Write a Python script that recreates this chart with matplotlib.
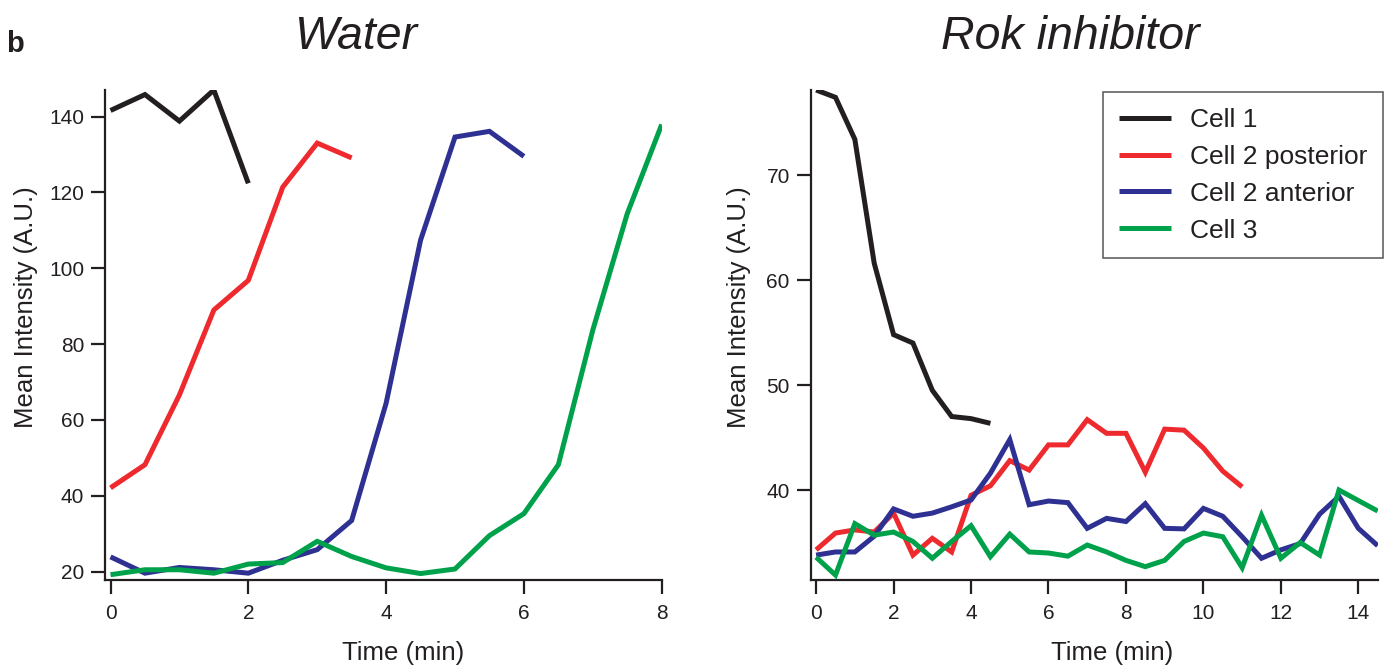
import matplotlib
matplotlib.use("Agg")
import matplotlib.pyplot as plt
import numpy as np

plt.rcParams['font.family'] = ['Liberation Sans', 'DejaVu Sans']

# ---------------- data ----------------
series_names = ["Cell 1", "Cell 2 posterior", "Cell 2 anterior", "Cell 3"]
series_colors = ["#231f20", "#ee2a2e", "#2e3192", "#00a14b"]

# Water panel (time in min, step 0.5)
water_cell1 = [141.6, 145.8, 138.8, 147.0, 122.4]
water_cell2_post = [42.1, 48.2, 66.6, 89.0, 96.8, 121.4, 133.0, 129.1]
water_cell2_ant = [23.9, 19.6, 21.1, 20.5, 19.6, 23.0, 25.8, 33.5, 64.4,
                   107.4, 134.6, 136.1, 129.5]
water_cell3 = [19.2, 20.5, 20.5, 19.6, 22.0, 22.4, 28.0, 24.0, 21.0, 19.5,
               20.7, 29.5, 35.3, 48.2, 83.7, 114.4, 137.9]

# Rok inhibitor panel (time in min, step 0.5)
rok_cell1 = [78.1, 77.4, 73.4, 61.6, 54.8, 54.0, 49.5, 47.0, 46.8, 46.35]
rok_cell2_post = [34.3, 35.9, 36.2, 36.0, 37.8, 33.8, 35.4, 34.1, 39.5, 40.4,
                  42.8, 41.9, 44.3, 44.3, 46.7, 45.4, 45.4, 41.7, 45.8, 45.7,
                  44.0, 41.8, 40.3]
rok_cell2_ant = [33.8, 34.1, 34.1, 35.6, 38.2, 37.5, 37.8, 38.4, 39.05, 41.6,
                 44.8, 38.6, 38.95, 38.8, 36.35, 37.3, 37.0, 38.7, 36.35, 36.3,
                 38.25, 37.5, 35.55, 33.5, 34.3, 34.9, 37.7, 39.4, 36.35, 34.7]
rok_cell3 = [33.6, 31.9, 36.8, 35.7, 36.0, 35.1, 33.5, 35.1, 36.6, 33.65,
             35.8, 34.1, 34.0, 33.7, 34.76, 34.1, 33.3, 32.7, 33.3, 35.1,
             35.9, 35.55, 32.6, 37.6, 33.5, 35.0, 33.8, 40.0, 39.0, 38.0]

water_yticks = [20, 40, 60, 80, 100, 120, 140]
water_xticks = [0, 2, 4, 6, 8]
rok_yticks = [40, 50, 60, 70]
rok_xticks = [0, 2, 4, 6, 8, 10, 12, 14]
dt = 0.5

# ---------------- figure ----------------
W, H = 1392, 666
fig = plt.figure(figsize=(W / 100, H / 100), dpi=100)

dark = "#231f20"

def px_axes(x0, x1, y0, y1):
    return fig.add_axes([x0 / W, 1 - y1 / H, (x1 - x0) / W, (y1 - y0) / H])

ax1 = px_axes(105, 661.7, 90, 580)
ax2 = px_axes(810.7, 1377.7, 90, 580)

def style(ax):
    for s in ["top", "right"]:
        ax.spines[s].set_visible(False)
    for s in ["left", "bottom"]:
        ax.spines[s].set_linewidth(1.6)
        ax.spines[s].set_color(dark)
    ax.tick_params(axis="both", direction="out", length=10, width=1.6,
                   color=dark, labelcolor=dark, labelsize=15)
    ax.tick_params(axis="x", pad=7)
    ax.tick_params(axis="y", pad=5)

def draw(ax, series):
    lines = []
    for vals, name, col in zip(series, series_names, series_colors):
        t = np.arange(len(vals)) * dt
        ln, = ax.plot(t, vals, color=col, lw=3.6, label=name,
                      solid_joinstyle="miter", solid_capstyle="butt")
        lines.append(ln)
    return lines

draw(ax1, [water_cell1, water_cell2_post, water_cell2_ant, water_cell3])
lines = draw(ax2, [rok_cell1, rok_cell2_post, rok_cell2_ant, rok_cell3])

for ax in (ax1, ax2):
    style(ax)

ax1.set_xlim(-0.08, 8.0)
ax1.set_ylim(17.8, 147.0)
ax1.set_xticks(water_xticks)
ax1.set_yticks(water_yticks)

ax2.set_xlim(-0.14, 14.5)
ax2.set_ylim(31.43, 78.1)
ax2.set_xticks(rok_xticks)
ax2.set_yticks(rok_yticks)

for ax, title, tx in ((ax1, "Water", 0.451), (ax2, "Rok inhibitor", 0.457)):
    ax.set_title(title, fontsize=33.5, style="italic", color=dark,
                 x=tx, y=1.0837, pad=0)
    ax.set_xlabel("Time (min)", fontsize=18.5, color=dark)
    ax.set_ylabel("Mean Intensity (A.U.)", fontsize=18.5, color=dark)

ax1.xaxis.set_label_coords(0.536, -0.124)
ax2.xaxis.set_label_coords(0.531, -0.124)
ax1.yaxis.set_label_coords(-0.121, 0.557)
ax2.yaxis.set_label_coords(-0.106, 0.557)

leg = ax2.legend(handles=lines, loc="upper right",
                 bbox_to_anchor=(1383 / W, 1 - 92 / H),
                 bbox_transform=fig.transFigure, fontsize=19,
                 frameon=True, fancybox=False, borderaxespad=0,
                 handlelength=2.0, handletextpad=0.7, labelspacing=0.49,
                 borderpad=0.6)
leg.get_frame().set_edgecolor("#3a3a3a")
leg.get_frame().set_linewidth(1.2)
for txt in leg.get_texts():
    txt.set_color(dark)

fig.text(6 / W, 1 - 52 / H, "b", fontsize=21, fontweight="bold",
         color=dark, ha="left", va="baseline")

fig.savefig("out.png", dpi=100)
